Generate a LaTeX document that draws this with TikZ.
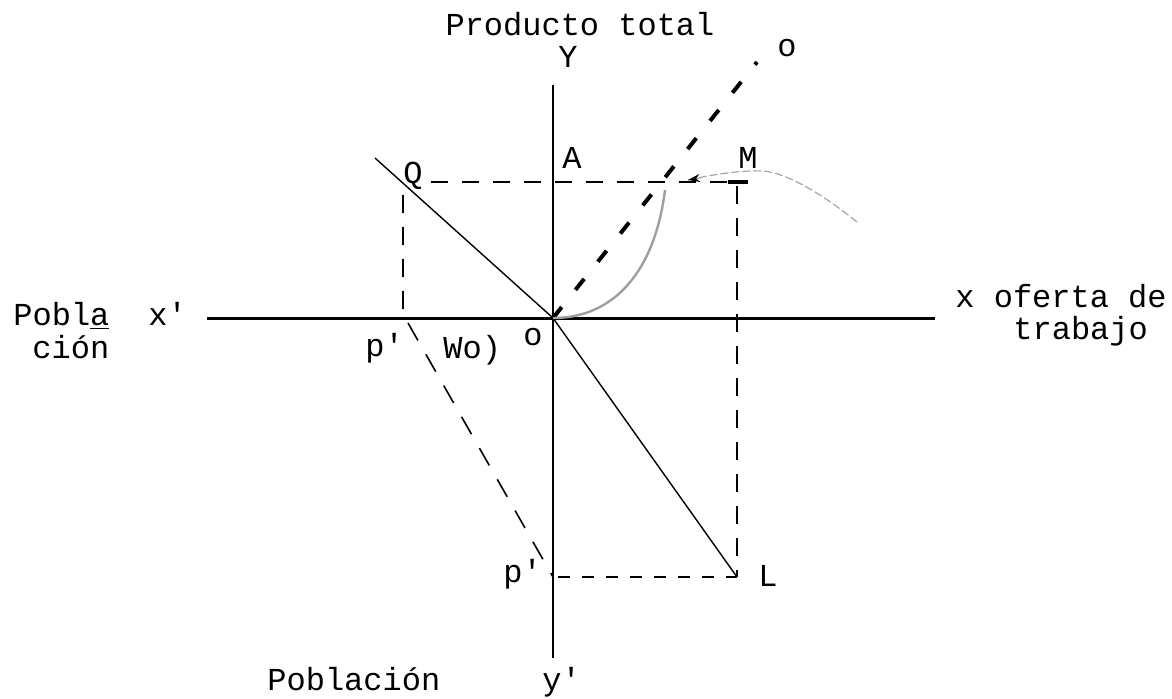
\documentclass[tikz,border=0pt]{standalone}
\usepackage{fontspec}
\setmonofont{Liberation Mono}
\usetikzlibrary{arrows.meta}
\begin{document}
\begin{tikzpicture}[x=0.5pt,y=-0.5pt,
  lbl/.style={font=\ttfamily\fontsize{16}{16}\selectfont, inner sep=0pt, text=black},
  axisx/.style={line width=1.5pt, black},
  axisy/.style={line width=1pt, black},
  thinline/.style={line width=0.7pt, black},
  dashA/.style={line width=1pt, black, dash pattern=on 8.5pt off 7pt},
  dashB/.style={line width=0.9pt, black, dash pattern=on 9pt off 7pt},
  dashC/.style={line width=0.8pt, black, dash pattern=on 6pt off 6pt},
  dashD/.style={line width=0.8pt, black, dash pattern=on 10pt off 8pt},
  heavydash/.style={line width=2pt, black, dash pattern=on 7pt off 11pt},
  curve/.style={line width=1.2pt, gray!75},
  hump/.style={line width=0.6pt, gray!70, dash pattern=on 4pt off 1.5pt}]
\useasboundingbox (0,0) rectangle (1172,698);

% coordinates
\coordinate (O) at (553,318);
\coordinate (xl) at (207,318);
\coordinate (xr) at (935,318);
\coordinate (yt) at (553,85);
\coordinate (yb) at (553,658);
\coordinate (qs) at (375,158);
\coordinate (Q) at (403,187);
\coordinate (qv) at (403,195);
\coordinate (P1) at (403,318);
\coordinate (p1s) at (408,323);
\coordinate (hq) at (431,182);
\coordinate (M) at (737,182);
\coordinate (Mr) at (748,182);
\coordinate (Ml) at (728,182);
\coordinate (Mv) at (737,186);
\coordinate (L) at (737,577);
\coordinate (P2) at (553,577);
\coordinate (P2r) at (558,577);
\coordinate (Otop) at (757,62);
\coordinate (C1) at (665,190);
\coordinate (H0) at (688,180);
\coordinate (H1) at (763,171);
\coordinate (H2) at (857,222);

% axes
\draw[axisx] (xl) -- (xr);
\draw[axisy] (yt) -- (yb);

% solid lines through origin
\draw[thinline] (qs) -- (O);
\draw[thinline] (O) -- (L);

% dashed construction lines
\draw[dashA] (hq) -- (Mr);
\draw[line width=1.6pt] (Ml) -- (Mr);
\draw[dashB] (Mv) -- (L);
\draw[dashC] (P2r) -- (L);
\draw[dashB] (qv) -- (P1);
\draw[dashD] (p1s) -- (P2);

% heavy dashed ray
\draw[heavydash] (O) -- (Otop);

% total product curve
\draw[curve] (O) .. controls (615,318) and (655,270) .. (C1);
\draw[hump] (H0) .. controls (710,175) and (740,170) .. (H1) .. controls (790,173) and (830,200) .. (H2);
\draw[line width=0.6pt, {Stealth[black,length=6pt,width=4pt]}-, gray!70] (H0) -- (700,178);

% labels
\node[lbl, anchor=base] (ptotal) at (580,35) {Producto total};
\node[lbl, anchor=base] (ylab) at (568,67) {Y};
\node[lbl, anchor=base] (otop) at (787,56) {o};
\node[lbl, anchor=base] (alab) at (572,168) {A};
\node[lbl, anchor=base] (mlab) at (748,168) {M};
\node[lbl, anchor=base] (qlab) at (413,183) {Q};
\node[lbl, anchor=base west] (pobla1) at (13,325) {Pobl\underline{a}};
\node[lbl, anchor=base west] (pobla2) at (32,358) {ción};
\node[lbl, anchor=base west] (xp) at (148,325) {x'};
\node[lbl, anchor=base west] (xof1) at (955,307) {x oferta de};
\node[lbl, anchor=base west] (xof2) at (1013,339) {trabajo};
\node[lbl, anchor=base west] (olab) at (523,345) {o};
\node[lbl, anchor=base west] (pp1) at (365,356) {p'};
\node[lbl, anchor=base west] (wo) at (443,358) {Wo)};
\node[lbl, anchor=base west] (pp2) at (503,582) {p'};
\node[lbl, anchor=base west] (llab) at (758,586) {L};
\node[lbl, anchor=base west] (pob) at (267,690) {Población};
\node[lbl, anchor=base west] (yp) at (542,690) {y'};
\end{tikzpicture}
\end{document}
